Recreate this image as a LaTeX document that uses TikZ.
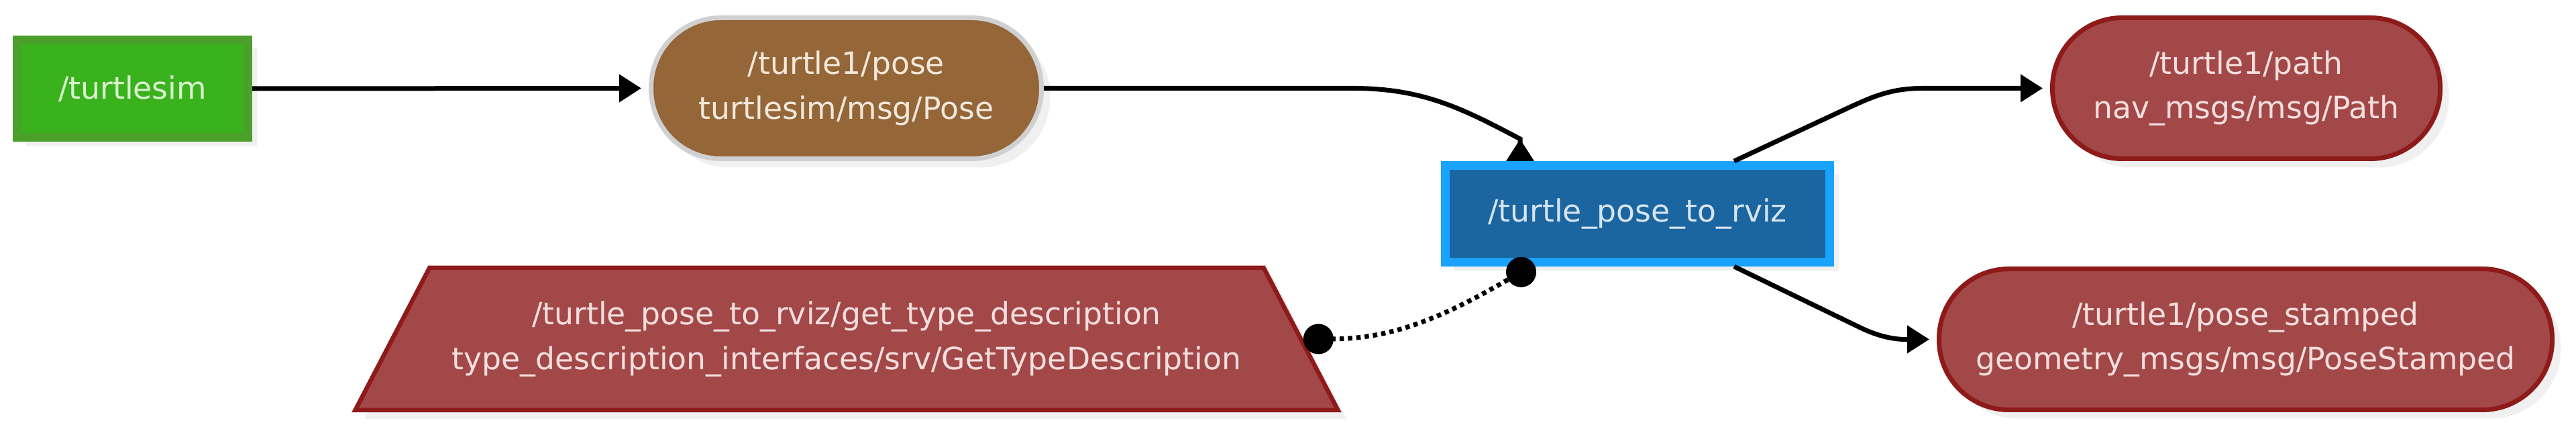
\documentclass[tikz,border=0pt]{standalone}
\usepackage{fontspec}
\setmainfont{DejaVu Sans}
\usetikzlibrary{shapes.geometric,shadows,arrows.meta}
\definecolor{SimFill}{HTML}{3AB21D}
\definecolor{SimLine}{HTML}{4AA02B}
\definecolor{SimText}{HTML}{D9F2D0}
\definecolor{PoseFill}{HTML}{946638}
\definecolor{PoseLine}{HTML}{D0D0D0}
\definecolor{PoseText}{HTML}{F2E8DC}
\definecolor{NodeFill}{HTML}{1B65A0}
\definecolor{NodeLine}{HTML}{1AA2FF}
\definecolor{NodeText}{HTML}{D6E4F0}
\definecolor{MsgFill}{HTML}{A24848}
\definecolor{MsgLine}{HTML}{8E1A1A}
\definecolor{MsgText}{HTML}{F4DEDE}
\definecolor{Shade}{HTML}{F0F0F0}

\begin{document}
\begin{tikzpicture}[line join=miter,
  box/.style={draw,inner sep=0pt,align=center,font=\fontsize{13}{19}\selectfont,
    drop shadow={shadow xshift=1.3mm,shadow yshift=-1.3mm,fill=Shade,opacity=1}},
  topic/.style={box,rounded corners=10.4mm,line width=0.7mm,minimum height=21mm},
  link/.style={line width=0.7mm,-{Triangle[length=3.3mm,width=4mm]},shorten >=1.1mm},
  dotlink/.style={line width=0.7mm,dash pattern=on 0.65mm off 0.6mm,{Circle[length=4.5mm]}-{Circle[length=4.5mm]}}]
  \useasboundingbox (0,0) rectangle (38.4,6.39);
  \node[box,fill=SimFill,draw=SimLine,line width=1.3mm,minimum width=34.4mm,minimum height=14.5mm,text=SimText] (sim) at (1.975,5.07) {/turtlesim};
  \node[topic,fill=PoseFill,draw=PoseLine,minimum width=58.2mm,text=PoseText] (pose) at (12.615,5.075) {/turtle1/pose\\turtlesim/msg/Pose};
  \node[box,fill=NodeFill,draw=NodeLine,line width=1.3mm,minimum width=57.3mm,minimum height=14.4mm,text=NodeText] (rviz) at (24.41,3.205) {/turtle\_pose\_to\_rviz};
  \node[topic,fill=MsgFill,draw=MsgLine,minimum width=57.8mm,text=MsgText] (pathmsg) at (33.485,5.075) {/turtle1/path\\nav\_msgs/msg/Path};
  \node[topic,fill=MsgFill,draw=MsgLine,minimum width=91.4mm,text=MsgText] (stamped) at (33.475,1.335) {/turtle1/pose\_stamped\\geometry\_msgs/msg/PoseStamped};
  \node[box,trapezium,trapezium angle=45.4,trapezium stretches body,minimum width=146.5mm,minimum height=21.2mm,
    fill=MsgFill,draw=MsgLine,line width=0.65mm,text=MsgText] (typesrv) at (12.62,1.34)
    {/turtle\_pose\_to\_rviz/get\_type\_description\\type\_description\_interfaces/srv/GetTypeDescription};

  \draw[link] (sim.east) -- (pose.west);
  \draw[link,-{Triangle[reversed,length=3.3mm,width=4mm]},shorten >=0pt] (pose.east) -- ++(4.6,0)
    to[out=0,in=152] ([xshift=-17.5mm,yshift=3.3mm]rviz.north) -- ([xshift=-17.5mm]rviz.north);
  \draw[link] ([xshift=14.4mm]rviz.north) -- ++(1.63,0.76) to[out=25,in=180] ++(1.19,0.325) -- (pathmsg.west);
  \draw[link] ([xshift=14.4mm]rviz.south) -- ++(1.88,-0.91) to[out=-26,in=180] (stamped.west);
  \draw[dotlink] (typesrv.east) to[out=0,in=210] ([xshift=-15.4mm,yshift=0.3mm]rviz.south);
\end{tikzpicture}
\end{document}
